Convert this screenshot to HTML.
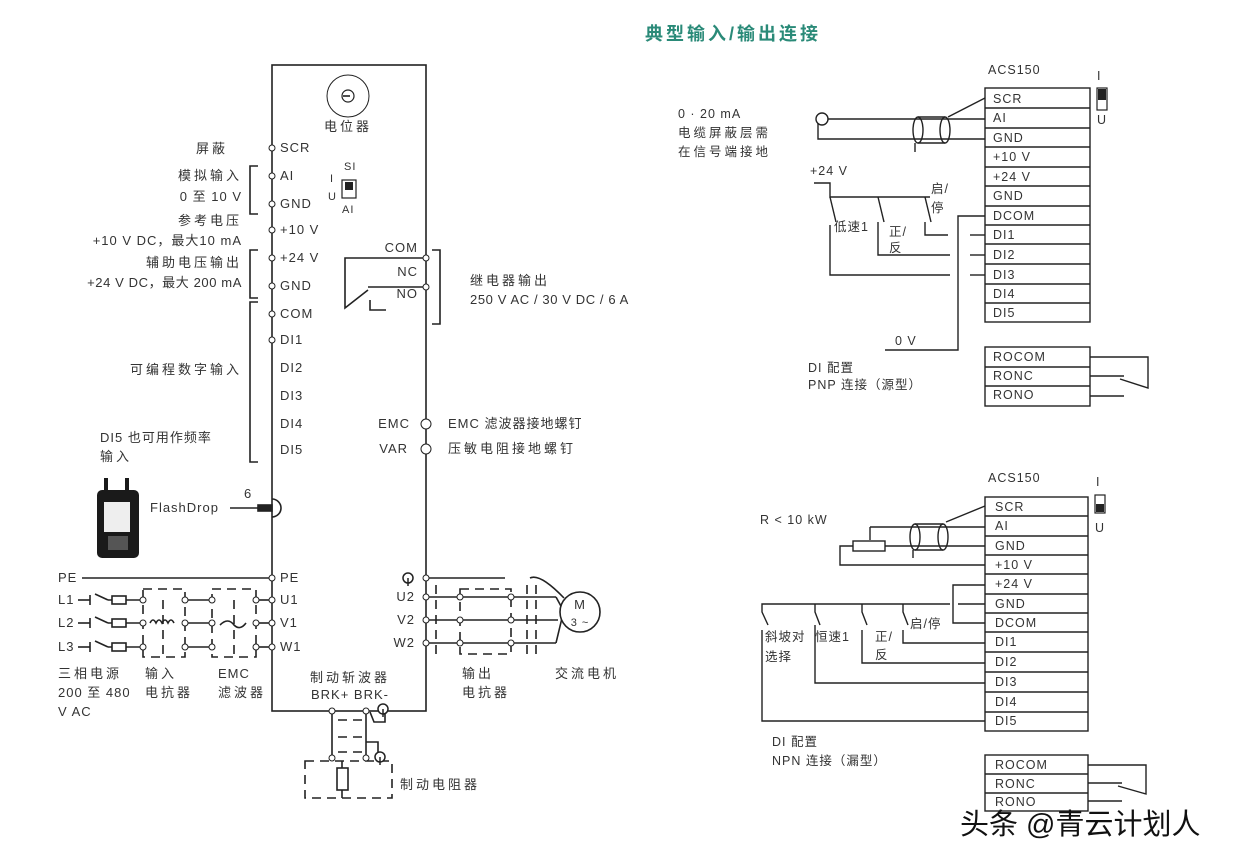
<!DOCTYPE html>
<html><head><meta charset="utf-8"><style>
html,body{margin:0;padding:0;background:#fff;}
svg{display:block;font-family:"Liberation Sans","Noto Sans CJK SC",sans-serif;}
text{fill:#333;}
.cn{letter-spacing:3px;}
</style></head><body>
<svg width="1246" height="864" viewBox="0 0 1246 864" xmlns="http://www.w3.org/2000/svg" font-size="13" letter-spacing="1">
<g stroke="#222" stroke-width="1.6" fill="none">
<rect x="272" y="65" width="154" height="646"/>
<circle cx="348" cy="96" r="21" stroke-width="1"/>
<circle cx="348" cy="96" r="6" stroke-width="1.2"/>
<line x1="343" y1="96" x2="350" y2="96"/>
<polyline points="258,166 250,166 250,214 258,214"/>
<polyline points="258,250 250,250 250,298 258,298"/>
<polyline points="258,302 250,302 250,462 258,462"/>
<rect x="342" y="180" width="14" height="18" stroke-width="1.2"/>
<rect x="345" y="182" width="8" height="8" fill="#222" stroke="none"/>
<polyline points="426,258 345,258 345,308 368,290"/>
<line x1="368" y1="287" x2="426" y2="287"/>
<polyline points="370,300 370,310 386,310"/>
<polyline points="432,250 440,250 440,324 432,324"/>
<line x1="230" y1="508" x2="258" y2="508"/>
<rect x="258" y="505" width="14" height="6" fill="#222"/>
<path d="M272,499 a9,9 0 0 1 0,18" />
<line x1="82" y1="578" x2="272" y2="578"/>
<g>
<line x1="78" y1="600" x2="90" y2="600"/><line x1="90" y1="595" x2="90" y2="605"/><line x1="95" y1="594" x2="108" y2="600"/>
<line x1="78" y1="623" x2="90" y2="623"/><line x1="90" y1="618" x2="90" y2="628"/><line x1="95" y1="617" x2="108" y2="623"/>
<line x1="78" y1="647" x2="90" y2="647"/><line x1="90" y1="642" x2="90" y2="652"/><line x1="95" y1="641" x2="108" y2="647"/>
<line x1="108" y1="600" x2="143" y2="600"/><line x1="108" y1="623" x2="143" y2="623"/><line x1="108" y1="647" x2="143" y2="647"/>
<rect x="112" y="596" width="14" height="8" fill="#fff"/><rect x="112" y="619" width="14" height="8" fill="#fff"/><rect x="112" y="643" width="14" height="8" fill="#fff"/>
<line x1="185" y1="600" x2="212" y2="600"/><line x1="185" y1="623" x2="212" y2="623"/><line x1="185" y1="647" x2="212" y2="647"/>
<line x1="256" y1="600" x2="272" y2="600"/><line x1="256" y1="623" x2="272" y2="623"/><line x1="256" y1="647" x2="272" y2="647"/>
<path d="M150,623 q3,-6 6,0 q3,-6 6,0 q3,-6 6,0 q3,-6 6,0"/>
<path d="M220,625 q8,-8 14,0 q6,6 12,-2"/>
<g stroke-dasharray="9,6"><rect x="143" y="589" width="42" height="68"/><rect x="212" y="589" width="44" height="68"/>
<line x1="163" y1="600" x2="163" y2="657"/><line x1="234" y1="600" x2="234" y2="657"/></g>
</g>
<line x1="426" y1="578" x2="505" y2="578"/>
<line x1="426" y1="597" x2="556" y2="597"/><line x1="426" y1="620" x2="558" y2="620"/><line x1="426" y1="643" x2="556" y2="643"/>
<polyline points="556,597 562,608"/><polyline points="556,643 562,618"/>
<path d="M530,578 q10,-5 34,20"/>
<circle cx="580" cy="612" r="20" fill="#fff"/>
<g stroke-dasharray="9,6"><rect x="460" y="589" width="51" height="65"/>
<line x1="436" y1="585" x2="436" y2="655"/><line x1="527" y1="585" x2="527" y2="655"/><line x1="536" y1="585" x2="536" y2="655"/></g>
<line x1="332" y1="711" x2="332" y2="758"/><line x1="366" y1="711" x2="366" y2="758"/>
<g stroke-dasharray="9,6"><line x1="338" y1="720" x2="362" y2="720"/><line x1="338" y1="737" x2="362" y2="737"/><line x1="338" y1="752" x2="362" y2="752"/>
<rect x="305" y="761" width="87" height="37"/></g>
<polyline points="370,712 374,722 385,722 385,712"/>
<polyline points="366,742 378,742 378,752"/>
<rect x="337" y="768" width="11" height="22"/>
<line x1="342" y1="761" x2="342" y2="768"/><line x1="342" y1="790" x2="342" y2="798"/>
</g>
<g stroke="#222" stroke-width="1" fill="#fff">
<circle cx="272" cy="148" r="3"/><circle cx="272" cy="176" r="3"/><circle cx="272" cy="204" r="3"/><circle cx="272" cy="230" r="3"/><circle cx="272" cy="258" r="3"/><circle cx="272" cy="286" r="3"/><circle cx="272" cy="314" r="3"/><circle cx="272" cy="340" r="3"/>
<circle cx="426" cy="258" r="3"/><circle cx="426" cy="287" r="3"/>
<circle cx="426" cy="424" r="5"/><circle cx="426" cy="449" r="5"/>
<circle cx="272" cy="578" r="3"/><circle cx="272" cy="600" r="3"/><circle cx="272" cy="623" r="3"/><circle cx="272" cy="647" r="3"/>
<circle cx="143" cy="600" r="3"/><circle cx="143" cy="623" r="3"/><circle cx="143" cy="647" r="3"/>
<circle cx="185" cy="600" r="3"/><circle cx="185" cy="623" r="3"/><circle cx="185" cy="647" r="3"/>
<circle cx="212" cy="600" r="3"/><circle cx="212" cy="623" r="3"/><circle cx="212" cy="647" r="3"/>
<circle cx="256" cy="600" r="3"/><circle cx="256" cy="623" r="3"/><circle cx="256" cy="647" r="3"/>
<circle cx="426" cy="578" r="3"/><circle cx="426" cy="597" r="3"/><circle cx="426" cy="620" r="3"/><circle cx="426" cy="643" r="3"/>
<circle cx="460" cy="597" r="3"/><circle cx="460" cy="620" r="3"/><circle cx="460" cy="643" r="3"/>
<circle cx="511" cy="597" r="3"/><circle cx="511" cy="620" r="3"/><circle cx="511" cy="643" r="3"/>
<circle cx="332" cy="711" r="3"/><circle cx="366" cy="711" r="3"/><circle cx="332" cy="758" r="3"/><circle cx="366" cy="758" r="3"/>
</g>
<g stroke="#222" stroke-width="1.5" fill="#fff"><circle cx="408" cy="578" r="5"/><circle cx="383" cy="709" r="5"/><circle cx="380" cy="757" r="5"/></g>
<g stroke="#222" stroke-width="1.5"><line x1="408" y1="578" x2="408" y2="586"/><line x1="383" y1="709" x2="383" y2="717"/><line x1="380" y1="757" x2="380" y2="765"/></g>
<rect x="97" y="490" width="42" height="68" rx="5" fill="#1a1a1a"/>
<rect x="104" y="478" width="4" height="14" fill="#1a1a1a"/><rect x="125" y="478" width="4" height="14" fill="#1a1a1a"/>
<rect x="104" y="502" width="26" height="30" fill="#eee"/>
<rect x="108" y="536" width="20" height="14" fill="#555"/>

<text x="280" y="152">SCR</text><text x="280" y="180">AI</text><text x="280" y="208">GND</text><text x="280" y="234">+10 V</text><text x="280" y="262">+24 V</text><text x="280" y="290">GND</text><text x="280" y="318">COM</text><text x="280" y="344">DI1</text><text x="280" y="372">DI2</text><text x="280" y="400">DI3</text><text x="280" y="428">DI4</text><text x="280" y="454">DI5</text>
<text x="348" y="131" text-anchor="middle" class="cn">电位器</text>
<text x="344" y="170" font-size="11">SI</text><text x="330" y="182" font-size="11">I</text><text x="328" y="200" font-size="11">U</text><text x="342" y="213" font-size="11">AI</text>
<g text-anchor="end">
<text x="228" y="153" class="cn">屏蔽</text>
<text x="242" y="180" class="cn">模拟输入</text>
<text x="242" y="201">0 至 10 V</text>
<text x="242" y="225" class="cn">参考电压</text>
<text x="242" y="245">+10 V DC，最大10 mA</text>
<text x="242" y="267" class="cn">辅助电压输出</text>
<text x="242" y="287" letter-spacing="0.6">+24 V DC，最大 200 mA</text>
<text x="242" y="374" class="cn">可编程数字输入</text>
<text x="418" y="252">COM</text><text x="418" y="276">NC</text><text x="418" y="298">NO</text>
<text x="410" y="428">EMC</text><text x="408" y="453">VAR</text>
<text x="415" y="601">U2</text><text x="415" y="624">V2</text><text x="415" y="647">W2</text>
</g>
<text x="100" y="442">DI5 也可用作频率</text><text x="100" y="461" class="cn">输入</text>
<text x="150" y="512">FlashDrop</text><text x="244" y="498">6</text>
<text x="470" y="285" class="cn">继电器输出</text><text x="470" y="304" letter-spacing="0.6">250 V AC / 30 V DC / 6 A</text>
<text x="448" y="428">EMC 滤波器接地螺钉</text><text x="448" y="453" class="cn">压敏电阻接地螺钉</text>
<text x="58" y="582">PE</text><text x="58" y="604">L1</text><text x="58" y="627">L2</text><text x="58" y="651">L3</text>
<text x="280" y="582">PE</text><text x="280" y="604">U1</text><text x="280" y="627">V1</text><text x="280" y="651">W1</text>
<text x="580" y="609" text-anchor="middle">M</text><text x="580" y="626" text-anchor="middle" font-size="11">3 ~</text>
<text x="58" y="678" class="cn">三相电源</text><text x="58" y="697">200 至 480</text><text x="58" y="716">V AC</text>
<text x="145" y="678" class="cn">输入</text><text x="145" y="697" class="cn">电抗器</text>
<text x="218" y="678">EMC</text><text x="218" y="697" class="cn">滤波器</text>
<text x="350" y="682" text-anchor="middle" class="cn">制动斩波器</text><text x="350" y="699" text-anchor="middle">BRK+ BRK-</text>
<text x="462" y="678" class="cn">输出</text><text x="462" y="697" class="cn">电抗器</text>
<text x="555" y="678" class="cn">交流电机</text>
<text x="400" y="789" class="cn">制动电阻器</text>

<text x="645" y="40" font-size="18" font-weight="bold" letter-spacing="3" style="fill:#2a8a78">典型输入/输出连接</text>

<g stroke="#222" stroke-width="1.4" fill="none">
<rect x="985" y="88" width="105" height="234"/>
<line x1="985" y1="108" x2="1090" y2="108"/><line x1="985" y1="128" x2="1090" y2="128"/><line x1="985" y1="147" x2="1090" y2="147"/><line x1="985" y1="167" x2="1090" y2="167"/><line x1="985" y1="186" x2="1090" y2="186"/><line x1="985" y1="206" x2="1090" y2="206"/><line x1="985" y1="225" x2="1090" y2="225"/><line x1="985" y1="244" x2="1090" y2="244"/><line x1="985" y1="264" x2="1090" y2="264"/><line x1="985" y1="284" x2="1090" y2="284"/><line x1="985" y1="303" x2="1090" y2="303"/>
<rect x="985" y="347" width="105" height="59"/><line x1="985" y1="367" x2="1090" y2="367"/><line x1="985" y1="386" x2="1090" y2="386"/>
<polyline points="1090,357 1148,357 1148,388 1120,379"/><line x1="1090" y1="376" x2="1124" y2="376"/><line x1="1090" y1="396" x2="1124" y2="396"/>
<line x1="828" y1="119" x2="985" y2="119"/><polyline points="822,113 818,119 818,139 985,139"/>
<ellipse cx="918" cy="130" rx="5" ry="13"/><ellipse cx="945" cy="130" rx="5" ry="13"/>
<line x1="918" y1="117" x2="945" y2="117"/><line x1="918" y1="143" x2="945" y2="143"/>
<line x1="948" y1="117" x2="985" y2="98"/><line x1="915" y1="143" x2="915" y2="152"/>
<polyline points="814,183 830,183 830,197 930,197"/>
<line x1="830" y1="197" x2="836" y2="222"/><line x1="878" y1="197" x2="884" y2="222"/><line x1="925" y1="197" x2="931" y2="222"/>
<polyline points="830,225 830,275 950,275"/><polyline points="878,222 878,255 950,255"/><polyline points="925,222 925,235 948,235"/>
<line x1="970" y1="235" x2="985" y2="235"/><line x1="970" y1="255" x2="985" y2="255"/><line x1="970" y1="275" x2="985" y2="275"/>
<polyline points="985,216 958,216 958,350 885,350"/>
<rect x="1097" y="88" width="10" height="22" stroke-width="1.2"/>
</g>
<circle cx="822" cy="119" r="6" fill="#fff" stroke="#222" stroke-width="1.4"/>
<rect x="1098" y="89" width="8" height="11" fill="#222"/>
<g font-size="12.5">
<text x="988" y="74">ACS150</text>
<text x="993" y="103">SCR</text><text x="993" y="122">AI</text><text x="993" y="142">GND</text><text x="993" y="161">+10 V</text><text x="993" y="181">+24 V</text><text x="993" y="200">GND</text><text x="993" y="220">DCOM</text><text x="993" y="239">DI1</text><text x="993" y="259">DI2</text><text x="993" y="279">DI3</text><text x="993" y="298">DI4</text><text x="993" y="317">DI5</text>
<text x="993" y="361">ROCOM</text><text x="993" y="380">RONC</text><text x="993" y="399">RONO</text>
<text x="1097" y="80">I</text><text x="1097" y="124">U</text>
<text x="678" y="118">0 · 20 mA</text><text x="678" y="137" class="cn">电缆屏蔽层需</text><text x="678" y="156" class="cn">在信号端接地</text>
<text x="810" y="175">+24 V</text><text x="895" y="345">0 V</text>
<text x="931" y="193">启/</text><text x="931" y="212">停</text><text x="834" y="231">低速1</text><text x="889" y="236">正/</text><text x="889" y="252">反</text>
<text x="808" y="372">DI 配置</text><text x="808" y="389">PNP 连接（源型）</text>
</g>

<g stroke="#222" stroke-width="1.4" fill="none">
<rect x="985" y="497" width="103" height="234"/>
<line x1="985" y1="516" x2="1088" y2="516"/><line x1="985" y1="536" x2="1088" y2="536"/><line x1="985" y1="555" x2="1088" y2="555"/><line x1="985" y1="574" x2="1088" y2="574"/><line x1="985" y1="594" x2="1088" y2="594"/><line x1="985" y1="613" x2="1088" y2="613"/><line x1="985" y1="632" x2="1088" y2="632"/><line x1="985" y1="652" x2="1088" y2="652"/><line x1="985" y1="672" x2="1088" y2="672"/><line x1="985" y1="692" x2="1088" y2="692"/><line x1="985" y1="712" x2="1088" y2="712"/>
<rect x="985" y="755" width="103" height="56"/><line x1="985" y1="774" x2="1088" y2="774"/><line x1="985" y1="793" x2="1088" y2="793"/>
<polyline points="1088,765 1146,765 1146,794 1118,786"/><line x1="1088" y1="783" x2="1122" y2="783"/><line x1="1088" y1="801" x2="1122" y2="801"/>
<line x1="870" y1="527" x2="985" y2="527"/><line x1="870" y1="527" x2="870" y2="540"/>
<line x1="885" y1="546" x2="985" y2="546"/>
<rect x="853" y="541" width="32" height="10" fill="#fff"/>
<polyline points="853,546 840,546 840,565 985,565"/>
<ellipse cx="915" cy="537" rx="5" ry="13"/><ellipse cx="943" cy="537" rx="5" ry="13"/>
<line x1="915" y1="524" x2="943" y2="524"/><line x1="915" y1="550" x2="943" y2="550"/>
<line x1="946" y1="522" x2="985" y2="506"/><line x1="913" y1="550" x2="913" y2="558"/>
<polyline points="985,585 953,585 953,623 985,623"/>
<line x1="958" y1="604" x2="985" y2="604"/>
<polyline points="950,604 762,604 762,612 768,625"/>
<polyline points="815,604 815,612 820,625"/><polyline points="862,604 862,612 867,625"/><polyline points="903,604 903,612 908,625"/>
<polyline points="903,630 903,643 985,643"/><polyline points="862,630 862,663 985,663"/><polyline points="815,625 815,683 985,683"/><polyline points="762,630 762,721 985,721"/>
<rect x="1095" y="495" width="10" height="18" stroke-width="1.2"/>
</g>
<rect x="1096" y="504" width="8" height="8" fill="#222"/>
<g font-size="12.5">
<text x="988" y="482">ACS150</text>
<text x="995" y="511">SCR</text><text x="995" y="530">AI</text><text x="995" y="550">GND</text><text x="995" y="569">+10 V</text><text x="995" y="588">+24 V</text><text x="995" y="608">GND</text><text x="995" y="627">DCOM</text><text x="995" y="646">DI1</text><text x="995" y="666">DI2</text><text x="995" y="686">DI3</text><text x="995" y="706">DI4</text><text x="995" y="725">DI5</text>
<text x="995" y="769">ROCOM</text><text x="995" y="788">RONC</text><text x="995" y="806">RONO</text>
<text x="1096" y="486">I</text><text x="1095" y="532">U</text>
<text x="760" y="524">R &lt; 10 kW</text>
<text x="765" y="641">斜坡对</text><text x="765" y="661">选择</text><text x="815" y="641">恒速1</text><text x="875" y="641">正/</text><text x="875" y="659">反</text><text x="910" y="628">启/停</text>
<text x="772" y="746">DI 配置</text><text x="772" y="765">NPN 连接（漏型）</text>
</g>
<text x="960" y="834" font-size="29" letter-spacing="0" style="fill:#111">头条 @青云计划人</text>
</svg>
</body></html>
